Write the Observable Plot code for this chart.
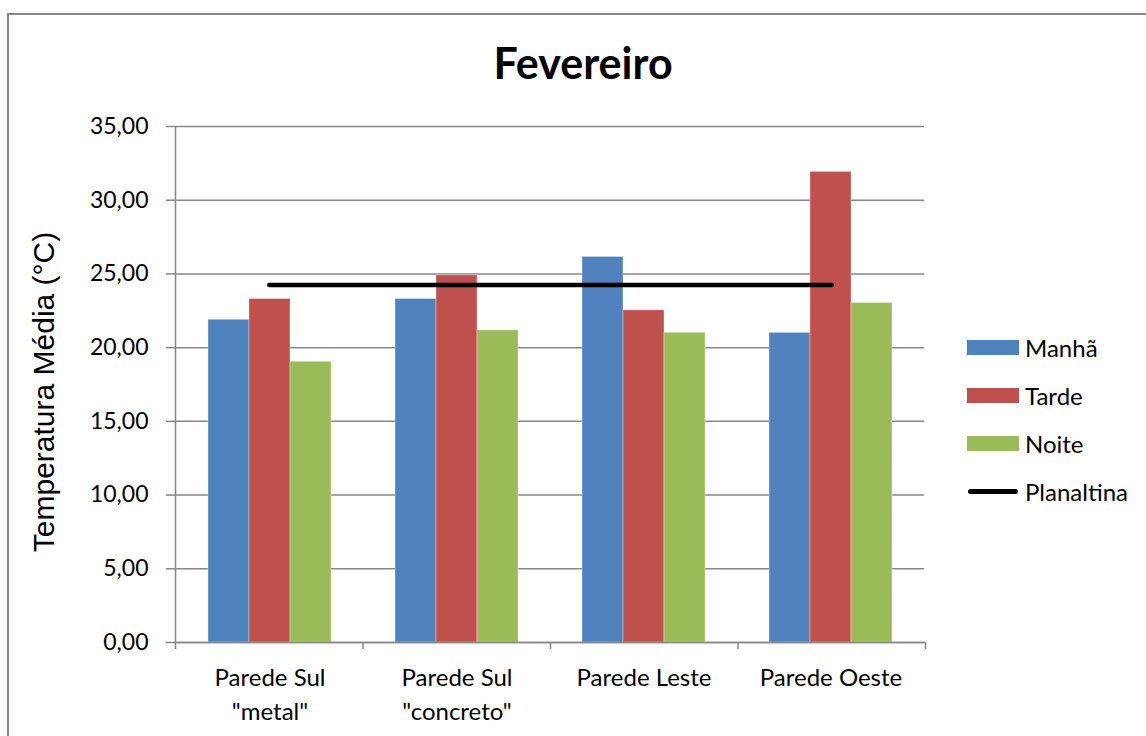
<!DOCTYPE html>
<html>
<head>
<meta charset="utf-8">
<script src="https://cdn.jsdelivr.net/npm/d3@7"></script>
<script src="https://cdn.jsdelivr.net/npm/@observablehq/plot@0.6"></script>
<style>
  html, body { margin: 0; padding: 0; background: #fff; overflow: hidden; }
  #wrap { position: relative; width: 1146px; height: 736px; }
  #border { position: absolute; left: 7px; top: 13px; width: 1170px; height: 760px; border: 2px solid #878787; box-sizing: border-box; }
  .layer { position: absolute; left: 0; top: 0; }
  #title { position: absolute; left: 0; width: 1166px; top: 38px; text-align: center; font-family: Lato, sans-serif; font-weight: bold; font-size: 43px; line-height: 50px; color: #000; }
  #ylabel { position: absolute; left: 44px; top: 392px; transform: translate(-50%, -50%) rotate(-90deg); white-space: nowrap; font-family: "Liberation Sans", Arial, sans-serif; font-size: 30px; color: #000; }
  .leg { position: absolute; left: 967px; height: 30px; display: flex; align-items: center; font-family: Lato, sans-serif; font-size: 24px; color: #000; }
  .sw { width: 52px; height: 15px; margin-right: 6px; }
  .ln { width: 50px; height: 5px; border-radius: 3px; background: #000; margin: 0 7px 0 1px; }
</style>
</head>
<body>
<div id="wrap">
  <div id="border"></div>
  <div id="title"></div>
  <div id="ylabel"></div>
  <div id="layerA" class="layer"></div>
  <div id="layerB" class="layer"></div>
  <div id="legend"></div>
</div>
<script>
// ---- data ----
const categories = ['Parede Sul\n"metal"', 'Parede Sul\n"concreto"', 'Parede Leste', 'Parede Oeste'];
const periods = ['Manhã', 'Tarde', 'Noite'];
const manha = [21.89, 23.30, 26.15, 21.00];
const tarde = [23.30, 24.90, 22.53, 31.92];
const noite = [19.04, 21.17, 21.01, 23.03];
const planaltina = [24.25, 24.25, 24.25, 24.25];
const lineLabel = 'Planaltina';
const yTicks = [0, 5, 10, 15, 20, 25, 30, 35];
const colors = ['#4F81BD', '#C0504D', '#9BBB59'];
const titleText = 'Fevereiro';
const yLabelText = 'Temperatura Média (°C)';

const seriesValues = [manha, tarde, noite];
const rows = [];
categories.forEach((c, i) => periods.forEach((p, j) => rows.push({cat: c, period: p, value: seriesValues[j][i]})));

const W = 1146, H = 736;
const margins = {marginLeft: 175, marginRight: 221, marginTop: 126, marginBottom: 94};
const fmt = d => d.toFixed(2).replace('.', ',');
const gray = '#878787';

// ---- layer A: grid, bars, category labels ----
const plotA = Plot.plot({
  width: W, height: H, ...margins,
  style: {fontFamily: 'Lato, sans-serif', fontSize: '24px', background: 'transparent', color: '#000'},
  fx: {domain: categories, padding: 0, label: null, axis: null},
  x: {domain: periods, paddingInner: 0, paddingOuter: 0.75, axis: null},
  y: {domain: [0, 35], axis: null},
  color: {domain: periods, range: colors},
  marks: [
    Plot.gridY(yTicks, {stroke: gray, strokeOpacity: 1, strokeWidth: 1.5}),
    Plot.barY(rows, {fx: 'cat', x: 'period', y: 'value', fill: 'period', stroke: '#ffffff', strokeOpacity: 0.35, strokeWidth: 1}),
    Plot.axisFx({anchor: 'bottom', tickSize: 0, tickPadding: 19, fontSize: 24, lineHeight: 1.42, label: null})
  ]
});
document.getElementById('layerA').appendChild(plotA);

// ---- layer B: axes and Planaltina line ----
const plotB = Plot.plot({
  width: W, height: H, ...margins,
  style: {fontFamily: 'Lato, sans-serif', fontSize: '23px', background: 'transparent', color: '#000'},
  x: {domain: [0, categories.length], axis: null},
  y: {domain: [0, 35], axis: null},
  marks: [
    Plot.axisY(yTicks, {tickSize: 9, tickPadding: 18, tickFormat: fmt, stroke: gray, fill: '#000', strokeWidth: 1.5, fontSize: 23, label: null}),
    Plot.ruleX([0], {stroke: gray, strokeWidth: 1.5}),
    Plot.axisX(d3.range(categories.length + 1), {tickSize: 7, tickFormat: () => '', stroke: gray, strokeWidth: 1.5, label: null}),
    Plot.ruleY([0], {stroke: gray, strokeWidth: 1.5}),
    Plot.lineY(planaltina, {x: (d, i) => i + 0.5, y: d => d, stroke: '#000', strokeWidth: 4.5, strokeLinecap: 'round'})
  ]
});
document.getElementById('layerB').appendChild(plotB);

// ---- title, y label, legend ----
document.getElementById('title').textContent = titleText;
document.getElementById('ylabel').textContent = yLabelText;
const legend = document.getElementById('legend');
const legTops = [332, 380, 428, 476];
periods.forEach((p, j) => {
  const d = document.createElement('div');
  d.className = 'leg';
  d.style.top = legTops[j] + 'px';
  d.innerHTML = `<div class="sw" style="background:${colors[j]}"></div><span>${p}</span>`;
  legend.appendChild(d);
});
const dl = document.createElement('div');
dl.className = 'leg';
dl.style.top = legTops[3] + 'px';
dl.innerHTML = `<div class="ln"></div><span>${lineLabel}</span>`;
legend.appendChild(dl);
</script>
</body>
</html>
